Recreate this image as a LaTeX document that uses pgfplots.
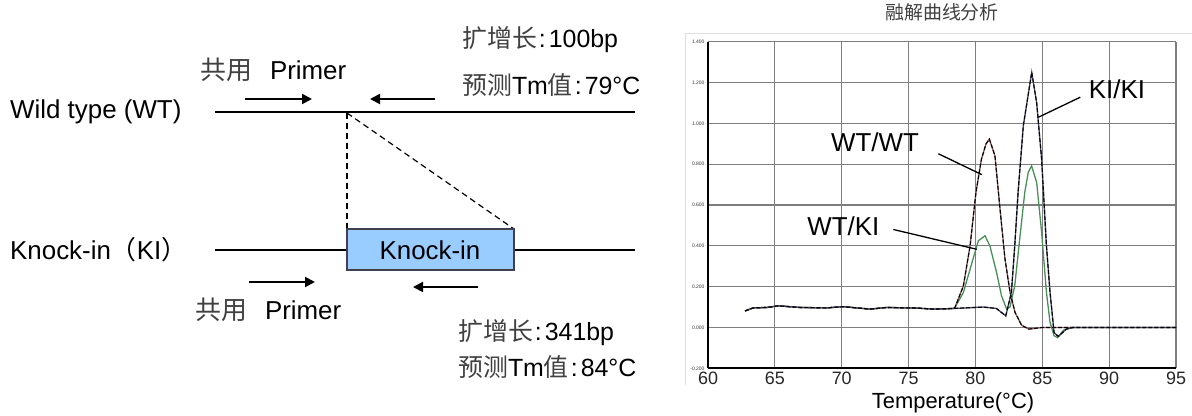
\documentclass[border=0pt]{standalone}
\usepackage{pgfplots}
\pgfplotsset{compat=1.18}
\usepackage{fontspec}
\setmainfont{Liberation Sans}
\newfontfamily\cjk{Noto Sans CJK SC}
\usetikzlibrary{arrows.meta}
\definecolor{boxblue}{HTML}{99CCFF}
\definecolor{boxedge}{HTML}{404050}
\definecolor{wtkigreen}{HTML}{4A8F57}
\definecolor{wtwtcol}{HTML}{8A5A5A}
\definecolor{kikicol}{HTML}{4A4A6A}
\definecolor{gridgray}{HTML}{7E7E7E}
\definecolor{framegray}{HTML}{DDDDDD}
\newcommand{\fs}[1]{\fontsize{#1}{#1}\selectfont}

\begin{document}
\begin{tikzpicture}[x=1bp,y=1bp]
\useasboundingbox (0bp,0bp) rectangle (1192bp,416bp);
% ---------------- left diagram ----------------
\begin{axis}[at={(0bp,0bp)}, anchor=south west, scale only axis,
  width=660bp, height=416bp, xmin=0, xmax=660, ymin=0, ymax=416,
  y dir=reverse, axis lines=none, clip=false]
\addplot[black, line width=1.5bp] coordinates {(215,112) (635,112)};
\addplot[black, line width=1.5bp] coordinates {(215,250) (347,250)};
\addplot[black, line width=1.5bp] coordinates {(514,250) (635,250)};
\addplot[black, line width=1.2bp, dash pattern=on 6bp off 4bp] coordinates {(347,113) (347,229)};
\addplot[black, line width=1.2bp, dash pattern=on 6bp off 4bp] coordinates {(347,113) (514,229)};
\addplot[draw=boxedge, fill=boxblue, line width=1.5bp] coordinates {(347,229) (514,229) (514,270) (347,270)} -- cycle;
\addplot[black, line width=2bp, -{Triangle[length=10bp,width=10bp]}] coordinates {(245,99) (312,99)};
\addplot[black, line width=2bp, -{Triangle[length=10bp,width=10bp]}] coordinates {(435,99) (370,99)};
\addplot[black, line width=2bp, -{Triangle[length=10bp,width=10bp]}] coordinates {(249,282) (315,282)};
\addplot[black, line width=2bp, -{Triangle[length=10bp,width=10bp]}] coordinates {(478,287) (413,287)};
\node[anchor=west, inner sep=0] at (axis cs:10,112) {\fs{26}Wild type (WT)};
\node[anchor=west, inner sep=0] at (axis cs:10,250) {\fs{26}Knock-in{\cjk（}KI{\cjk）}};
\node[anchor=center, inner sep=0] at (axis cs:430,250) {\fs{26}Knock-in};
\node[anchor=west, inner sep=0] at (axis cs:200,70) {\fs{26}{\cjk\color{black!75}共用}\hspace{18bp}Primer};
\node[anchor=west, inner sep=0] at (axis cs:195,310) {\fs{26}{\cjk\color{black!75}共用}\hspace{18bp}Primer};
\node[anchor=west, inner sep=0] at (axis cs:462,40) {\fs{25}{\cjk\color{black!75}扩增长}\hspace{2bp}:\hspace{3bp}100bp};
\node[anchor=west, inner sep=0] at (axis cs:462,85) {\fs{25}{\cjk\color{black!75}预测}Tm{\cjk\color{black!75}值}\hspace{2bp}:\hspace{3bp}79°C};
\node[anchor=west, inner sep=0] at (axis cs:458,333) {\fs{25}{\cjk\color{black!75}扩增长}\hspace{2bp}:\hspace{3bp}341bp};
\node[anchor=west, inner sep=0] at (axis cs:458,367) {\fs{25}{\cjk\color{black!75}预测}Tm{\cjk\color{black!75}值}\hspace{2bp}:\hspace{3bp}84°C};
\end{axis}
% ---------------- melt curve ----------------
\begin{axis}[at={(708bp,47.7bp)}, anchor=south west, scale only axis,
  width=468bp, height=326.6bp,
  xmin=60, xmax=95, ymin=-0.2, ymax=1.4,
  xtick={60,65,70,75,80,85,90,95},
  ytick={-0.2,0,0.2,0.4,0.6,0.8,1.0,1.2,1.4},
  grid=major, major grid style={gridgray, line width=1.2bp},
  axis x line*=bottom, axis y line*=left,
  axis line style={black, line width=1.8bp},
  major tick length=0pt,
  /pgf/number format/assume math mode=true,
  xticklabel style={font=\fs{18}, text=black!85},
  yticklabel style={font=\fs{5}, text=black!80, /pgf/number format/.cd, fixed, fixed zerofill, precision=3},
  title={\cjk\fs{19}\color{black!75}融解曲线分析},
  title style={at={(axis description cs:0.5,1)}, anchor=center, yshift=23.7bp},
  xlabel={\fs{22}Temperature(°C)},
  xlabel style={at={(axis description cs:0.5235,0)}, anchor=center, yshift=-34.7bp},
  clip=false]
% faint outer frame of the chart panel
\addplot[framegray, line width=1bp] coordinates {(58.35,-0.28) (58.35,1.438) (96.3,1.438)};
% WT/KI (green)
\addplot[wtkigreen, line width=1.3bp] coordinates {
 (62.77,0.081) (63.39,0.096) (64.4,0.098) (65.26,0.106) (66.88,0.098) (68.88,0.096)
 (70.12,0.102) (72.12,0.090) (73.37,0.098) (75.61,0.095) (76.85,0.090) (78.35,0.093)
 (78.47,0.098) (79.1,0.172) (79.6,0.286) (80.22,0.425) (80.72,0.449) (81.08,0.40)
 (81.58,0.27) (81.95,0.155) (82.33,0.09) (82.58,0.10) (82.94,0.204) (83.31,0.433)
 (83.69,0.662) (83.95,0.76) (84.2,0.792) (84.58,0.71) (84.95,0.466) (85.31,0.172)
 (85.58,0.025) (85.88,-0.04) (86.13,-0.05) (86.58,-0.014) (87.1,0) (87.5,0)};
% WT/WT
\addplot[wtwtcol, line width=1.3bp] coordinates {
 (62.77,0.081) (63.39,0.096) (64.4,0.098) (65.26,0.106) (66.88,0.098) (68.88,0.096)
 (70.12,0.102) (72.12,0.090) (73.37,0.098) (75.61,0.095) (76.85,0.090) (78.35,0.093)
 (78.47,0.098) (79.1,0.204) (79.6,0.40) (80.04,0.662) (80.45,0.825) (80.79,0.899)
 (81.04,0.923) (81.46,0.841) (81.84,0.58) (82.21,0.335) (82.59,0.172) (82.96,0.074)
 (83.45,0.011) (84.0,-0.008) (84.5,-0.004) (85.0,0) (95,0)};
\addplot[black, line width=1.1bp, dash pattern=on 4bp off 2bp] coordinates {
 (62.77,0.081) (63.39,0.096) (64.4,0.098) (65.26,0.106) (66.88,0.098) (68.88,0.096)
 (70.12,0.102) (72.12,0.090) (73.37,0.098) (75.61,0.095) (76.85,0.090) (78.35,0.093)
 (78.47,0.098) (79.1,0.204) (79.6,0.40) (80.04,0.662) (80.45,0.825) (80.79,0.899)
 (81.04,0.923) (81.46,0.841) (81.84,0.58) (82.21,0.335) (82.59,0.172) (82.96,0.074)
 (83.45,0.011) (84.0,-0.008) (84.5,-0.004) (85.0,0) (95,0)};
% KI/KI
\addplot[kikicol, line width=1.3bp] coordinates {
 (62.77,0.081) (63.39,0.096) (64.4,0.098) (65.26,0.106) (66.88,0.098) (68.88,0.096)
 (70.12,0.102) (72.12,0.090) (73.37,0.098) (75.61,0.095) (76.85,0.090) (78.35,0.093)
 (80.58,0.10) (81.33,0.095) (81.57,0.093) (82.27,0.057) (82.69,0.172) (82.94,0.40)
 (83.19,0.662) (83.58,0.988) (84.21,1.25) (84.58,1.10) (84.95,0.825) (85.31,0.40)
 (85.58,0.172) (85.88,-0.025) (86.2,-0.044) (86.8,-0.008) (87.3,0) (95,0)};
\addplot[black, line width=1.1bp, dash pattern=on 4bp off 2bp] coordinates {
 (62.77,0.081) (63.39,0.096) (64.4,0.098) (65.26,0.106) (66.88,0.098) (68.88,0.096)
 (70.12,0.102) (72.12,0.090) (73.37,0.098) (75.61,0.095) (76.85,0.090) (78.35,0.093)
 (80.58,0.10) (81.33,0.095) (81.57,0.093) (82.27,0.057) (82.69,0.172) (82.94,0.40)
 (83.19,0.662) (83.58,0.988) (84.21,1.25) (84.58,1.10) (84.95,0.825) (85.31,0.40)
 (85.58,0.172) (85.88,-0.025) (86.2,-0.044) (86.8,-0.008) (87.3,0) (95,0)};
% annotations
\addplot[black, line width=1.3bp] coordinates {(87.84,1.128) (84.71,1.03)};
\addplot[black, line width=1.3bp] coordinates {(77.23,0.851) (80.47,0.749)};
\addplot[black, line width=1.3bp] coordinates {(73.86,0.48) (80.10,0.383)};
\node[anchor=center, inner sep=0] at (axis cs:90.59,1.168) {\fs{26}KI/KI};
\node[anchor=center, inner sep=0] at (axis cs:72.49,0.907) {\fs{26}WT/WT};
\node[anchor=center, inner sep=0] at (axis cs:70.12,0.498) {\fs{26}WT/KI};
\end{axis}
\end{tikzpicture}
\end{document}
